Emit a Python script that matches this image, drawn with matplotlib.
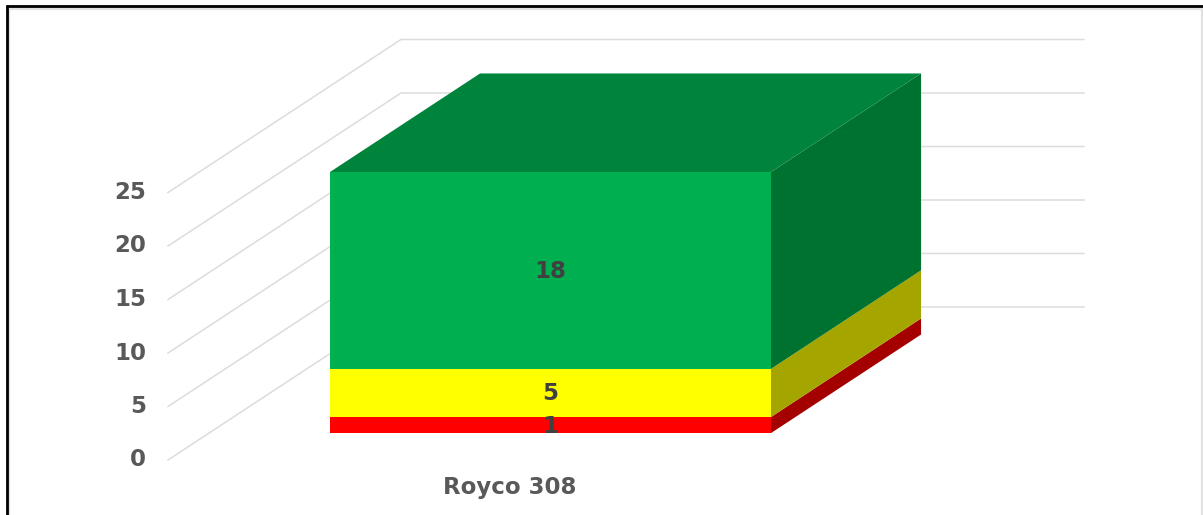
import matplotlib
matplotlib.use("Agg")
import matplotlib.pyplot as plt
from matplotlib.patches import Polygon, Rectangle

plt.rcParams["font.family"] = ["DejaVu Sans"]

CATEGORY = "Royco 308"
AXIS_TICKS = [0, 5, 10, 15, 20, 25]
SEGMENT_HEIGHTS = [1.5, 4.5, 18.4]
SEGMENT_LABELS = ["1", "5", "18"]
FRONT_COLORS = ["#ff0000", "#ffff00", "#00b050"]
SIDE_COLORS = ["#a50000", "#a5a500", "#00722f"]
TOP_COLOR = "#00843c"

# chart geometry in pixels
ORIGIN_X, ORIGIN_Y = 168, 460
PX_PER_UNIT = 10.7
DEPTH_X, DEPTH_Y = 233, -153
FLOOR_WIDTH = 683
BAR_LEFT, BAR_RIGHT = 121, 562
BAR_D0, BAR_D1 = 0.176, 0.82


def project(x, depth, value):
    return (ORIGIN_X + x + DEPTH_X * depth, ORIGIN_Y + DEPTH_Y * depth - value * PX_PER_UNIT)


fig = plt.figure(figsize=(12.03, 5.15), dpi=100)
ax = fig.add_axes([0, 0, 1, 1])
ax.set_xlim(0, 1203)
ax.set_ylim(515, 0)
ax.axis("off")

# frame
ax.add_patch(Rectangle((9, 8.5), 1192.5, 520, fill=False, ec="#e2e2e2", lw=1.6, zorder=1))
ax.plot([6.5, 6.5], [5, 515], color="black", lw=2, solid_capstyle="butt", zorder=2)
ax.plot([5.5, 1203], [6, 6], color="black", lw=2, solid_capstyle="butt", zorder=2)

# walls and value labels
for tick in AXIS_TICKS:
    pts = [project(0, 0, tick), project(0, 1, tick), project(FLOOR_WIDTH, 1, tick)]
    ax.plot(*zip(*pts), color="#dcdcdc", lw=1.1, zorder=1)
    x, y = project(-22, 0, tick)
    ax.text(x, y, str(tick), ha="right", va="center", fontsize=16.5, fontweight="bold", color="#595959")

# stacked block
base = 0
for height, label, front, side in zip(SEGMENT_HEIGHTS, SEGMENT_LABELS, FRONT_COLORS, SIDE_COLORS):
    top = base + height
    ax.add_patch(Polygon([project(BAR_LEFT, BAR_D0, base), project(BAR_RIGHT, BAR_D0, base),
                          project(BAR_RIGHT, BAR_D0, top), project(BAR_LEFT, BAR_D0, top)],
                         fc=front, ec="none", zorder=3))
    ax.add_patch(Polygon([project(BAR_RIGHT, BAR_D0, base), project(BAR_RIGHT, BAR_D1, base),
                          project(BAR_RIGHT, BAR_D1, top), project(BAR_RIGHT, BAR_D0, top)],
                         fc=side, ec="none", zorder=3))
    x, y = project((BAR_LEFT + BAR_RIGHT) / 2, BAR_D0, (base + top) / 2)
    ax.text(x, y + 1, label, ha="center", va="center", fontsize=16.5, fontweight="bold", color="#404040", zorder=4)
    base = top

ax.add_patch(Polygon([project(BAR_LEFT, BAR_D0, base), project(BAR_RIGHT, BAR_D0, base),
                      project(BAR_RIGHT, BAR_D1, base), project(BAR_LEFT, BAR_D1, base)],
                     fc=TOP_COLOR, ec="none", zorder=3))

x, y = project((BAR_LEFT + BAR_RIGHT) / 2, 0, -2.6)
ax.text(x, y, CATEGORY, ha="center", va="center", fontsize=16.5, fontweight="bold", color="#595959")

fig.savefig("out.png", dpi=100)
